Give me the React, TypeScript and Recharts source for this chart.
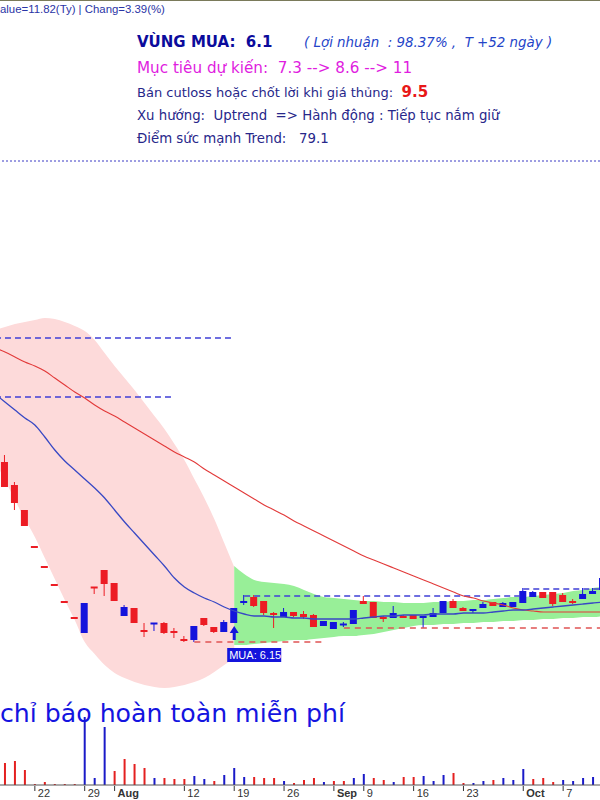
import React from 'react';
import { ComposedChart, Bar, Line, Area, XAxis, YAxis, ReferenceLine, ReferenceDot, Cell } from 'recharts';

// Trading days (2024) – first entry is the day just left of the visible window
const dates = [
  '07-16','07-17','07-18','07-19','07-22','07-23','07-24','07-25','07-26','07-29','07-30','07-31',
  '08-01','08-02','08-05','08-06','08-07','08-08','08-09','08-12','08-13','08-14','08-15','08-16',
  '08-19','08-20','08-21','08-22','08-23','08-26','08-27','08-28','08-29','08-30',
  '09-04','09-05','09-06','09-09','09-10','09-11','09-12','09-13','09-16','09-17','09-18','09-19',
  '09-20','09-23','09-24','09-25','09-26','09-27','09-30',
  '10-01','10-02','10-03','10-04','10-07','10-08','10-09','10-10','10-11',
];

const open = [null,
  7.95, 7.72, 7.47, 7.10, 6.90, 6.72, 6.55, 6.39, 6.24, 6.70,
  6.87, 6.74, 6.41, 6.49, 6.27, 6.33, 6.34, 6.26, 6.18, 6.17,
  6.39, 6.30, 6.25, 6.34, 6.54, 6.60, 6.56, 6.44, 6.40, 6.45,
  6.43, 6.42, 6.31, 6.28, 6.32, 6.33, 6.56, 6.55, 6.40, 6.39,
  6.41, 6.42, 6.39, 6.40, 6.44, 6.56, 6.49, 6.46, 6.49, 6.55,
  6.50, 6.50, 6.54, 6.60, 6.65, 6.65, 6.62, 6.56, 6.58, 6.63, 6.67];
const high = [null,
  8.02, 7.75, 7.47, 7.10, 6.90, 6.72, 6.55, 6.39, 6.54, 6.70,
  6.87, 6.74, 6.52, 6.49, 6.34, 6.34, 6.35, 6.29, 6.21, 6.31,
  6.39, 6.30, 6.37, 6.49, 6.62, 6.62, 6.56, 6.45, 6.49, 6.45,
  6.46, 6.43, 6.36, 6.35, 6.35, 6.47, 6.61, 6.55, 6.41, 6.51,
  6.42, 6.42, 6.41, 6.49, 6.56, 6.58, 6.50, 6.48, 6.55, 6.55,
  6.55, 6.55, 6.69, 6.66, 6.65, 6.65, 6.64, 6.58, 6.69, 6.69, 6.80];
const low = [null,
  7.70, 7.47, 7.31, 7.10, 6.90, 6.72, 6.55, 6.39, 6.24, 6.63,
  6.61, 6.56, 6.41, 6.34, 6.20, 6.26, 6.23, 6.19, 6.15, 6.15,
  6.31, 6.24, 6.25, 6.34, 6.52, 6.50, 6.42, 6.29, 6.40, 6.40,
  6.38, 6.30, 6.31, 6.28, 6.30, 6.33, 6.53, 6.39, 6.35, 6.39,
  6.39, 6.38, 6.29, 6.40, 6.44, 6.49, 6.46, 6.44, 6.49, 6.51,
  6.50, 6.50, 6.54, 6.60, 6.59, 6.51, 6.55, 6.53, 6.58, 6.63, 6.67];
const close = [null,
  7.70, 7.54, 7.31, 7.10, 6.90, 6.72, 6.55, 6.39, 6.54, 6.69,
  6.73, 6.56, 6.50, 6.34, 6.25, 6.34, 6.24, 6.24, 6.16, 6.31,
  6.32, 6.25, 6.35, 6.49, 6.56, 6.51, 6.44, 6.42, 6.45, 6.41,
  6.40, 6.30, 6.36, 6.35, 6.33, 6.47, 6.53, 6.39, 6.38, 6.44,
  6.39, 6.38, 6.41, 6.44, 6.56, 6.49, 6.46, 6.48, 6.53, 6.51,
  6.54, 6.55, 6.66, 6.65, 6.59, 6.53, 6.55, 6.54, 6.63, 6.66, 6.79];

// Volume (thousand shares) and its colour (u = up, d = down)
const volume = [null,
  550, 600, 375, 25, 75, 25, 25, 25, 1700, 175,
  1450, 350, 650, 525, 425, 175, 175, 150, 150, 225,
  150, 100, 250, 425, 200, 200, 175, 175, 100, 50,
  125, 175, 75, 100, 100, 175, 275, 175, 125, 75,
  200, 200, 225, 100, 250, 300, 50, 50, 100, 125,
  175, 125, 400, 150, 175, 75, 125, 100, 175, 200, 150];
const volumeDirs = [' ',
  'd','d','d','d','d','d','d','d','u','u',
  'u','d','d','d','d','u','d','d','d','u',
  'u','d','u','u','u','d','d','d','u','d',
  'd','d','u','d','d','u','u','d','d','u',
  'd','d','u','u','u','d','d','u','u','d',
  'u','u','u','d','d','d','u','u','u','u','u'];

// Moving averages
const maFast = [
  8.63, 8.55, 8.47, 8.39, 8.32, 8.20, 8.07, 7.96, 7.87, 7.78,
  7.69, 7.59, 7.47, 7.35, 7.24, 7.13, 7.02, 6.91, 6.79, 6.70,
  6.64, 6.59, 6.55, 6.50, 6.46, 6.43, 6.41, 6.41, 6.40, 6.40,
  6.39, 6.39, 6.38, 6.38, 6.38, 6.38, 6.38, 6.39, 6.40, 6.41,
  6.41, 6.42, 6.42, 6.42, 6.43, 6.43, 6.43, 6.44, 6.44, 6.44,
  6.45, 6.46, 6.47, 6.47, 6.48, 6.49, 6.50, 6.51, 6.52, 6.53, 6.54, 6.55];
const maSlow = [
  9.09, 9.05, 9.00, 8.95, 8.91, 8.86, 8.79, 8.72, 8.65, 8.59,
  8.52, 8.46, 8.41, 8.35, 8.29, 8.23, 8.17, 8.11, 8.05, 8.00,
  7.95, 7.88, 7.82, 7.76, 7.70, 7.64, 7.58, 7.52, 7.47, 7.42,
  7.36, 7.31, 7.26, 7.21, 7.16, 7.11, 7.06, 7.01, 6.97, 6.93,
  6.89, 6.85, 6.81, 6.77, 6.73, 6.69, 6.65, 6.61, 6.59, 6.56,
  6.54, 6.52, 6.49, 6.47, 6.46, 6.45, 6.45, 6.45, 6.45, 6.45, 6.45, 6.45];

// Envelope: pink while falling (07-16 .. 08-19), green after (08-19 .. 10-11)
const pinkUpper = [
  9.27, 9.30, 9.33, 9.35, 9.37, 9.39, 9.38, 9.35, 9.31, 9.26,
  9.17, 9.04, 8.91, 8.79, 8.67, 8.54, 8.41, 8.28, 8.13, 7.97,
  7.78, 7.59, 7.38, 7.14, 6.90];
const pinkLower = [
  7.95, 7.77, 7.57, 7.38, 7.20, 6.99, 6.78, 6.57, 6.37, 6.15,
  6.03, 5.92, 5.84, 5.79, 5.75, 5.72, 5.70, 5.69, 5.70, 5.72,
  5.75, 5.79, 5.85, 5.92, 5.99];
const greenUpper = [
  6.91, 6.83, 6.77, 6.75, 6.74, 6.73, 6.71, 6.67, 6.63, 6.60,
  6.59, 6.58, 6.57, 6.56, 6.56, 6.55, 6.55, 6.54, 6.54, 6.54,
  6.55, 6.55, 6.56, 6.56, 6.57, 6.57, 6.58, 6.59, 6.60, 6.60,
  6.61, 6.62, 6.63, 6.64, 6.66, 6.67, 6.69, 6.70];
const greenLower = [
  6.12, 6.12, 6.13, 6.14, 6.15, 6.16, 6.17, 6.17, 6.18, 6.19,
  6.20, 6.21, 6.21, 6.22, 6.23, 6.25, 6.27, 6.29, 6.31, 6.32,
  6.32, 6.33, 6.33, 6.34, 6.34, 6.35, 6.35, 6.36, 6.36, 6.37,
  6.37, 6.38, 6.38, 6.39, 6.39, 6.40, 6.40, 6.41];
const GREEN_START = 24; // index in dates of 08-19

// Horizontal levels
const levelLines = [
  { from: '07-16', to: '08-19', price: 9.19, tone: 'blue' },
  { from: '07-16', to: '08-09', price: 8.60, tone: 'blue' },
  { from: '08-20', to: '10-01', price: 6.61, tone: 'blue' },
  { from: '10-01', to: '10-11', price: 6.68, tone: 'blue' },
  { from: '08-13', to: '08-30', price: 6.15, tone: 'red' },
  { from: '09-05', to: '10-11', price: 6.29, tone: 'red' },
];
const TARGET_LINE = 10.96;
const BUY_DATE = '08-19';
const BUY_PRICE = 6.15;

const tickDates = ['07-22','07-29','08-01','08-12','08-19','08-26','09-04','09-09','09-16','09-23','10-01','10-07'];
const tickLabels = ['22','29','Aug','12','19','26','Sep','9','16','23','Oct','7'];

const PRICE_DOMAIN: [number, number] = [4.57, 12.57];
const VOLUME_DOMAIN: [number, number] = [0, 2500];

const CANDLE_UP = '#1414dc';
const CANDLE_DOWN = '#ec1c24';

const data = dates.map((date, j) => ({
  date,
  o: open[j], h: high[j], l: low[j], c: close[j],
  prevC: j > 0 ? close[j - 1] : null,
  fast: maFast[j], slow: maSlow[j],
  pinkHi: j < pinkUpper.length ? pinkUpper[j] : null,
  pinkLo: j < pinkLower.length ? pinkLower[j] : null,
  greenHi: j >= GREEN_START ? greenUpper[j - GREEN_START] : null,
  greenLo: j >= GREEN_START ? greenLower[j - GREEN_START] : null,
  v: volume[j],
  up: volumeDirs[j] === 'u',
}));

const CHART_W = 618;
const SHIFT = -10;

function Candle(props: any) {
  const { x, y, width, height, payload } = props;
  if (!payload || payload.h == null || x == null || y == null) return null;
  const { o, h, l, c, prevC } = payload;
  const rising = c > o || (c === o && prevC != null && c > prevC);
  const color = rising ? CANDLE_UP : CANDLE_DOWN;
  const cx = x + width / 2;
  const yTop = Math.min(y, y + (height || 0));
  const hPix = Math.abs(height || 0);
  const span = h - l;
  const yOf = (v: number) => (span > 0 ? yTop + ((h - v) / span) * hPix : yTop);
  const t = yOf(Math.max(o, c));
  const b = yOf(Math.min(o, c));
  let bodyY = t;
  let bodyH = b - t;
  if (bodyH < 2) {
    bodyY = (t + b) / 2 - 1;
    bodyH = 2;
  }
  return (
    <g>
      {span > 0 && <line x1={cx} x2={cx} y1={yTop} y2={yTop + hPix} stroke={color} strokeWidth={1} />}
      <rect x={x} y={bodyY} width={width} height={bodyH} fill={color} />
    </g>
  );
}

function BuyMarker(props: any) {
  const { cx, cy } = props;
  if (cx == null || cy == null) return null;
  return (
    <g>
      <polygon points={`${cx},${cy - 16} ${cx - 4.5},${cy - 9} ${cx + 4.5},${cy - 9}`} fill="#1414dc" />
      <rect x={cx - 1.5} y={cy - 10} width={3} height={8} fill="#1414dc" />
      <rect x={cx - 7} y={cy + 6} width={54} height={14} fill="#1414dc" />
      <text x={cx - 5} y={cy + 17} fill="#ffffff" fontSize={11} fontFamily="'Liberation Sans', Arial, sans-serif">MUA: 6.15</text>
    </g>
  );
}

function DateTick(props: any) {
  const { x, y, payload } = props;
  const k = tickDates.indexOf(payload?.value);
  if (k < 0) return <g />;
  const label = tickLabels[k];
  const isMonth = /[A-Za-z]/.test(label);
  return (
    <g>
      <line x1={x} x2={x} y1={y + 1} y2={y + 6} stroke="#333" strokeWidth={1} />
      <text x={x + 3} y={y + 12} fontSize={11} fontWeight={isMonth ? 'bold' : 'normal'} fill="#333" fontFamily="'Liberation Sans', Arial, sans-serif">{label}</text>
    </g>
  );
}

const FONT = "'DejaVu Sans', Verdana, sans-serif";
// keep runs of spaces visible in SVG text
const keep = (s: string) => s.replace(/  /g, ' \u00a0');

export default function App() {
  return (
    <div style={{ position: 'absolute', left: 0, top: 0, width: 600, height: 800, overflow: 'hidden', background: '#ffffff' }}>
      <div style={{ position: 'absolute', left: SHIFT, top: 0 }}>
        <ComposedChart width={CHART_W} height={800} data={data} margin={{ top: 0, right: 0, bottom: 0, left: 0 }}>
          <XAxis dataKey="date" hide />
          <YAxis hide domain={PRICE_DOMAIN} allowDataOverflow />
          <Area dataKey={(d: any) => (d.pinkHi == null ? null : [d.pinkLo, d.pinkHi])} type="monotone" stroke="none" fill="#fddada" fillOpacity={1} dot={false} activeDot={false} isAnimationActive={false} />
          <Area dataKey={(d: any) => (d.greenHi == null ? null : [d.greenLo, d.greenHi])} type="monotone" stroke="none" fill="#98ef98" fillOpacity={1} dot={false} activeDot={false} isAnimationActive={false} />
          <ReferenceLine y={TARGET_LINE} stroke="#3a3ac4" strokeDasharray="2 2" strokeWidth={1} />
          {levelLines.map((lv, i) => (
            <ReferenceLine key={i} segment={[{ x: lv.from, y: lv.price }, { x: lv.to, y: lv.price }]}
              stroke={lv.tone === 'blue' ? '#3f3fd6' : '#e05454'} strokeDasharray={lv.tone === 'blue' ? '6 4' : '6 5'} strokeWidth={1.5} />
          ))}
          <Line dataKey="slow" type="monotone" stroke="#e23a3a" strokeWidth={1.1} dot={false} activeDot={false} isAnimationActive={false} />
          <Line dataKey="fast" type="monotone" stroke="#3848c4" strokeWidth={1.3} dot={false} activeDot={false} isAnimationActive={false} />
          <Bar dataKey={(d: any) => (d.h == null ? null : [d.l, d.h])} barSize={7} shape={(p: any) => <Candle {...p} />} isAnimationActive={false} />
          <ReferenceDot x={BUY_DATE} y={BUY_PRICE} r={0} shape={(p: any) => <BuyMarker {...p} />} />
        </ComposedChart>
      </div>
      <div style={{ position: 'absolute', left: SHIFT, top: 685 }}>
        <ComposedChart width={CHART_W} height={115} data={data} margin={{ top: 0, right: 0, bottom: 0, left: 0 }}>
          <XAxis dataKey="date" interval={0} height={15} tickLine={false} tickSize={0} tickMargin={0} axisLine={{ stroke: '#555555' }} tick={(p: any) => <DateTick {...p} />} />
          <YAxis hide domain={VOLUME_DOMAIN} />
          <Bar dataKey="v" barSize={2} isAnimationActive={false}>
            {data.map((d, i) => (
              <Cell key={i} fill={d.up ? '#1a1ac8' : '#e42020'} />
            ))}
          </Bar>
        </ComposedChart>
      </div>
      <svg width={600} height={800} style={{ position: 'absolute', left: 0, top: 0, pointerEvents: 'none' }}>
        <line x1={0} x2={600} y1={0.5} y2={0.5} stroke="#7a7a5a" strokeWidth={1} />
        <text x={0} y={13} fontSize={11.4} fill="#2a34a6" fontFamily="'Liberation Sans', Arial, sans-serif">{'alue=11.82(Ty) | Chang=3.39(%)'}</text>
        <text x={137} y={47} fontSize={15} fontWeight="bold" fill="#0b0b9c" fontFamily={FONT}>{keep('VÙNG MUA:  6.1')}</text>
        <text x={304} y={47} fontSize={13.4} fontStyle="italic" fill="#2444c8" fontFamily={FONT}>{keep('( Lợi nhuận  : 98.37% ,  T +52 ngày )')}</text>
        <text x={137} y={73} fontSize={15.2} fill="#e01de0" fontFamily={FONT}>{keep('Mục tiêu dự kiến:  7.3 --> 8.6 --> 11')}</text>
        <text x={137} y={97} fontSize={13} fill="#27278a" fontFamily={FONT}>
          {keep('Bán cutloss hoặc chốt lời khi giá thủng:  ')}
          <tspan fill="#e81818" fontWeight="bold" fontSize={15}>9.5</tspan>
        </text>
        <text x={137} y={120} fontSize={13.3} fill="#27278a" fontFamily={FONT}>{keep('Xu hướng:  Uptrend  => Hành động : Tiếp tục nắm giữ')}</text>
        <text x={137} y={143} fontSize={13.3} fill="#27278a" fontFamily={FONT}>{keep('Điểm sức mạnh Trend:   79.1')}</text>
        <text x={0} y={722} fontSize={25.2} fill="#1414e0" fontFamily={FONT}>{'chỉ báo hoàn toàn miễn phí'}</text>
      </svg>
    </div>
  );
}
